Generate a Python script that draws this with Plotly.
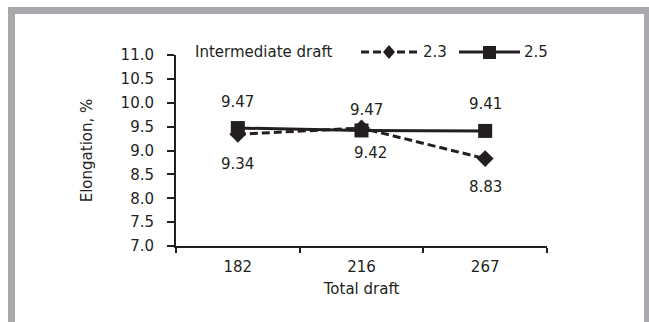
import plotly.graph_objects as go

# Elongation vs. total draft for two intermediate draft settings
total_draft = ["182", "216", "267"]
series_names = ["2.3", "2.5"]
elong_23 = [9.34, 9.47, 8.83]
elong_25 = [9.47, 9.42, 9.41]

INK = "#231f20"
FRAME = "#a7a9ac"
FONT = "DejaVu Sans, Liberation Sans, Arial, sans-serif"
FS = 15

W, H = 649, 322
L, R, T, B = 176, 102, 55, 76
PW, PH = W - L - R, H - T - B


def px(x):
    return (x - L) / PW


def py(y):
    return (H - B - y) / PH


fig = go.Figure()
fig.add_trace(go.Scatter(
    x=total_draft, y=elong_23, name=series_names[0], mode="lines+markers",
    line=dict(color=INK, width=3, dash="8px,4px"),
    marker=dict(symbol="diamond", size=13, color=INK),
    showlegend=False, cliponaxis=False,
))
fig.add_trace(go.Scatter(
    x=total_draft, y=elong_25, name=series_names[1], mode="lines+markers",
    line=dict(color=INK, width=3),
    marker=dict(symbol="square", size=14, color=INK),
    showlegend=False, cliponaxis=False,
))

# value labels: (category index, value, vertical shift, horizontal shift)
labels = [
    (0, elong_25[0], 26, 0),
    (0, elong_23[0], -30, 0),
    (1, elong_23[1], 18, 5),
    (1, elong_25[1], -23, 9),
    (2, elong_25[2], 27, 0),
    (2, elong_23[2], -28, 0),
]
annotations = []
for idx, val, ys, xs in labels:
    annotations.append(dict(
        x=idx, y=val, xref="x", yref="y", text=f"{val:.2f}", showarrow=False,
        yshift=ys, xshift=xs, font=dict(family=FONT, size=FS, color=INK),
    ))

# legend row drawn along the top of the plot
leg_y = py(52)
for x0, txt in [(193, "Intermediate draft"), (421, series_names[0]), (522, series_names[1])]:
    annotations.append(dict(x=px(x0), y=leg_y, xref="paper", yref="paper",
                            text=txt, showarrow=False, xanchor="left", yanchor="middle",
                            font=dict(family=FONT, size=FS, color=INK)))

shapes = [
    # grey frame
    dict(type="rect", xref="paper", yref="paper", x0=px(8), x1=px(15), y0=py(7), y1=py(330),
         fillcolor=FRAME, line=dict(width=0), layer="below"),
    dict(type="rect", xref="paper", yref="paper", x0=px(8), x1=px(660), y0=py(7), y1=py(14),
         fillcolor=FRAME, line=dict(width=0), layer="below"),
    dict(type="rect", xref="paper", yref="paper", x0=px(644), x1=px(660), y0=py(7), y1=py(330),
         fillcolor=FRAME, line=dict(width=0), layer="below"),
    # legend keys
    dict(type="line", xref="paper", yref="paper", x0=px(361), x1=px(419), y0=leg_y, y1=leg_y,
         line=dict(color=INK, width=3, dash="8px,4px")),
    dict(type="path", xref="paper", yref="paper",
         path=f"M {px(389)},{py(45)} L {px(395)},{py(52)} L {px(389)},{py(59)} L {px(383)},{py(52)} Z",
         fillcolor=INK, line=dict(width=0)),
    dict(type="line", xref="paper", yref="paper", x0=px(459), x1=px(520), y0=leg_y, y1=leg_y,
         line=dict(color=INK, width=3)),
    dict(type="rect", xref="paper", yref="paper", x0=px(483), x1=px(496), y0=py(46), y1=py(59),
         fillcolor=INK, line=dict(width=0)),
]

fig.update_layout(
    width=W, height=H,
    margin=dict(l=L, r=R, t=T, b=B, autoexpand=False),
    paper_bgcolor="white", plot_bgcolor="white",
    font=dict(family=FONT, size=FS, color=INK),
    annotations=annotations, shapes=shapes, showlegend=False,
    xaxis=dict(
        type="category", range=[-0.5, 2.5], tickson="boundaries", ticks="outside", ticklen=5,
        tickwidth=2, tickcolor=INK, showline=True, linecolor=INK, linewidth=2,
        showgrid=False, zeroline=False, fixedrange=True, tickangle=0, ticklabelstandoff=6,
        tickfont=dict(family=FONT, size=FS, color=INK),
        title=dict(text="Total draft", standoff=8, font=dict(family=FONT, size=FS, color=INK)),
        automargin=False,
    ),
    yaxis=dict(
        range=[7, 11], dtick=0.5, tickformat=".1f", ticks="outside", ticklen=7,
        tickwidth=2, tickcolor=INK, showline=True, linecolor=INK, linewidth=2,
        showgrid=False, zeroline=False, fixedrange=True, ticklabelstandoff=10,
        tickfont=dict(family=FONT, size=FS, color=INK),
        title=dict(text="Elongation, %", standoff=24, font=dict(family=FONT, size=FS, color=INK)),
        automargin=False,
    ),
)

fig.write_html("out.html", config=dict(displayModeBar=False))
